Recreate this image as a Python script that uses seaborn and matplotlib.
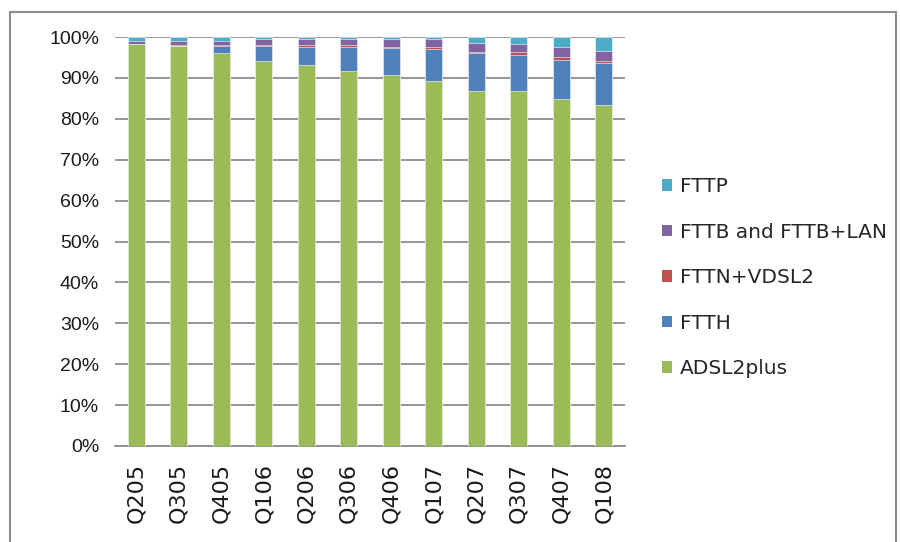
import numpy as np
import pandas as pd
import matplotlib.pyplot as plt
import seaborn as sns
from matplotlib.patches import Patch, Rectangle
from matplotlib.ticker import PercentFormatter

sns.set_theme(style="white")
plt.rcParams["font.family"] = ["DejaVu Sans"]

# ------------------------------------------------------------------
# Data (share of services, % per quarter)
# ------------------------------------------------------------------
quarters = ["Q205", "Q305", "Q405", "Q106", "Q206", "Q306",
            "Q406", "Q107", "Q207", "Q307", "Q407", "Q108"]
adsl2plus = [98.2, 97.9, 96.0, 94.2, 93.2, 91.7, 90.7, 89.2, 86.8, 86.8, 84.9, 83.3]
ftth = [0.1, 0.0, 1.85, 3.65, 4.4, 5.9, 6.5, 7.75, 9.3, 8.9, 9.5, 10.3]
fttn_vdsl2 = [0.0, 0.2, 0.25, 0.25, 0.4, 0.4, 0.4, 0.55, 0.3, 0.7, 0.65, 0.5]
fttb_lan = [0.8, 1.0, 1.0, 1.4, 1.5, 1.5, 1.9, 2.0, 2.2, 1.8, 2.5, 2.5]
fttp = [0.9, 0.9, 0.9, 0.5, 0.5, 0.5, 0.5, 0.5, 1.4, 1.8, 2.45, 3.4]

series = ["ADSL2plus", "FTTH", "FTTN+VDSL2", "FTTB and FTTB+LAN", "FTTP"]
colors = ["#9BBB59", "#4F81BD", "#C0504D", "#8064A2", "#4BACC6"]

df = pd.DataFrame({"quarter": quarters, "ADSL2plus": adsl2plus, "FTTH": ftth,
                   "FTTN+VDSL2": fttn_vdsl2, "FTTB and FTTB+LAN": fttb_lan,
                   "FTTP": fttp})
vals = df[series]
share = vals.div(vals.sum(axis=1), axis=0) * 100
cum = share.cumsum(axis=1)

# ------------------------------------------------------------------
# Plot: stacked 100% bars, drawn as overlaid cumulative bars
# ------------------------------------------------------------------
fig = plt.figure(figsize=(9, 5.42), dpi=100)
ax = fig.add_axes([115 / 900, 1 - 446 / 542, 510 / 900, 409 / 542])

grid_col = "#8C8C8C"
for s, c in reversed(list(zip(series, colors))):
    sns.barplot(x=df["quarter"], y=cum[s], order=quarters, color=c,
                width=0.4, saturation=1, ax=ax, zorder=3,
                edgecolor="#FFFFFF", linewidth=0.4)

ax.set_ylim(0, 100)
ax.set_xlim(-0.5, len(quarters) - 0.5)
ax.yaxis.set_major_locator(plt.MultipleLocator(10))
ax.yaxis.set_major_formatter(PercentFormatter(100, decimals=0))
ax.yaxis.grid(True, color=grid_col, linewidth=1.3, zorder=0)
ax.set_axisbelow(True)
ax.set_xlabel("")
ax.set_ylabel("")

for side in ["left", "right", "top"]:
    ax.spines[side].set_visible(False)
ax.spines["bottom"].set_color(grid_col)
ax.spines["bottom"].set_linewidth(1.3)

ax.tick_params(axis="y", which="major", length=6.5, width=1.3, color=grid_col,
               direction="out", pad=5, labelsize=13, labelcolor="#1A1A1A")
for lab in ax.get_yticklabels():
    lab.set_family(["Liberation Sans Narrow", "Liberation Sans", "DejaVu Sans"])
    lab.set_fontsize(14)

ax.set_xticks(range(len(quarters)))
ax.set_xticklabels(quarters, rotation=90, fontsize=16, color="#1A1A1A")
ax.tick_params(axis="x", which="major", length=0, pad=12)
ax.set_xticks(np.arange(0.5, len(quarters), 1.0), minor=True)
ax.tick_params(axis="x", which="minor", length=6, width=1.0, color=grid_col,
               direction="out")

# legend (top entry FTTP, bottom ADSL2plus)
handles = [Patch(facecolor=c, edgecolor="none") for c in colors][::-1]
labels = series[::-1]
fig.legend(handles, labels, loc="upper left",
           bbox_to_anchor=(662 / 900, 1 - 177 / 542),
           frameon=False, fontsize=14.5, borderpad=0, borderaxespad=0,
           handlelength=0.5, handleheight=0.5, handletextpad=0.4,
           labelspacing=1.32)

# outer chart frame
fig.patches.append(Rectangle((10 / 900, -0.05), 886 / 900, 1 - 12 / 542 + 0.05,
                             transform=fig.transFigure, fill=False,
                             edgecolor="#8C8C8C", linewidth=1.5))

fig.savefig("out.png", dpi=100, facecolor="white")
